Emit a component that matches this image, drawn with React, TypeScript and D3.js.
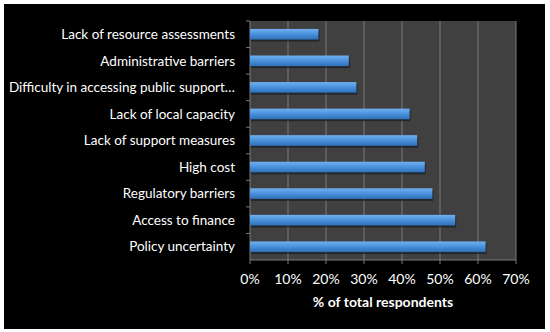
import React from "react";
import * as d3 from "d3";

const categories = [
  "Lack of resource assessments",
  "Administrative barriers",
  "Difficulty in accessing public support…",
  "Lack of local capacity",
  "Lack of support measures",
  "High cost",
  "Regulatory barriers",
  "Access to finance",
  "Policy uncertainty",
];
const values = [18, 26, 28, 42, 44, 46, 48, 54, 62];
const xTicks = [0, 10, 20, 30, 40, 50, 60, 70];
const xTitle = "% of total respondents";

export default function App() {
  const W = 550, H = 332;
  const left = 250, right = 516, top = 21, bottom = 260;
  const x = d3.scaleLinear().domain([0, 70]).range([left, right]);
  const y = d3.scaleBand<string>().domain(categories).range([top, bottom]).paddingInner(0.6).paddingOuter(0.3);
  const yb = d3.scaleBand<string>().domain(categories).range([top, bottom]);
  const font = "Lato, 'Open Sans', sans-serif";
  return (
    <svg width={W} height={H} style={{ position: "absolute", left: 0, top: 0 }}>
      <defs>
        <linearGradient id="bg" x1="0" y1="0" x2="0" y2="1">
          <stop offset="0" stopColor="#6fb0f0" />
          <stop offset="0.5" stopColor="#4a90dc" />
          <stop offset="1" stopColor="#2f6fb8" />
        </linearGradient>
      </defs>
      <rect x={0} y={0} width={W} height={H} fill="#ffffff" />
      <rect x={4} y={4} width={541} height={325} fill="#000000" />
      <rect x={left} y={top} width={right - left} height={bottom - top} fill="#404040" />
      {xTicks.slice(1).map((t) => (
        <line key={t} x1={x(t)} x2={x(t)} y1={top} y2={bottom + 4} stroke="#7a7a7a" strokeWidth={1} />
      ))}
      <line x1={left} x2={right} y1={bottom} y2={bottom} stroke="#7a7a7a" />
      <line x1={left} x2={left} y1={top} y2={bottom + 4} stroke="#7a7a7a" />
      {categories.map((c, i) => (
        <line key={"t" + i} x1={left - 4} x2={left} y1={yb(c)!} y2={yb(c)!} stroke="#7a7a7a" />
      ))}
      {categories.map((c, i) => (
        <g key={c}>
          <rect x={left + 1} y={y(c)! + 2} width={x(values[i]) - left} height={y.bandwidth()} fill="#101820" opacity={0.6} />
          <rect x={left} y={y(c)!} width={x(values[i]) - left} height={y.bandwidth()} fill="url(#bg)" />
          <text x={235} y={y(c)! + y.bandwidth() / 2} dy="0.35em" textAnchor="end" fill="#ffffff" fontFamily={font} fontSize={13.5}>
            {c}
          </text>
        </g>
      ))}
      {xTicks.map((t) => (
        <text key={"l" + t} x={x(t)} y={279} dy="0.35em" textAnchor="middle" fill="#ffffff" fontFamily={font} fontSize={14}>
          {t}%
        </text>
      ))}
      <text x={383} y={302} dy="0.35em" textAnchor="middle" fill="#ffffff" fontFamily={font} fontSize={14} fontWeight="bold">
        {xTitle}
      </text>
    </svg>
  );
}
